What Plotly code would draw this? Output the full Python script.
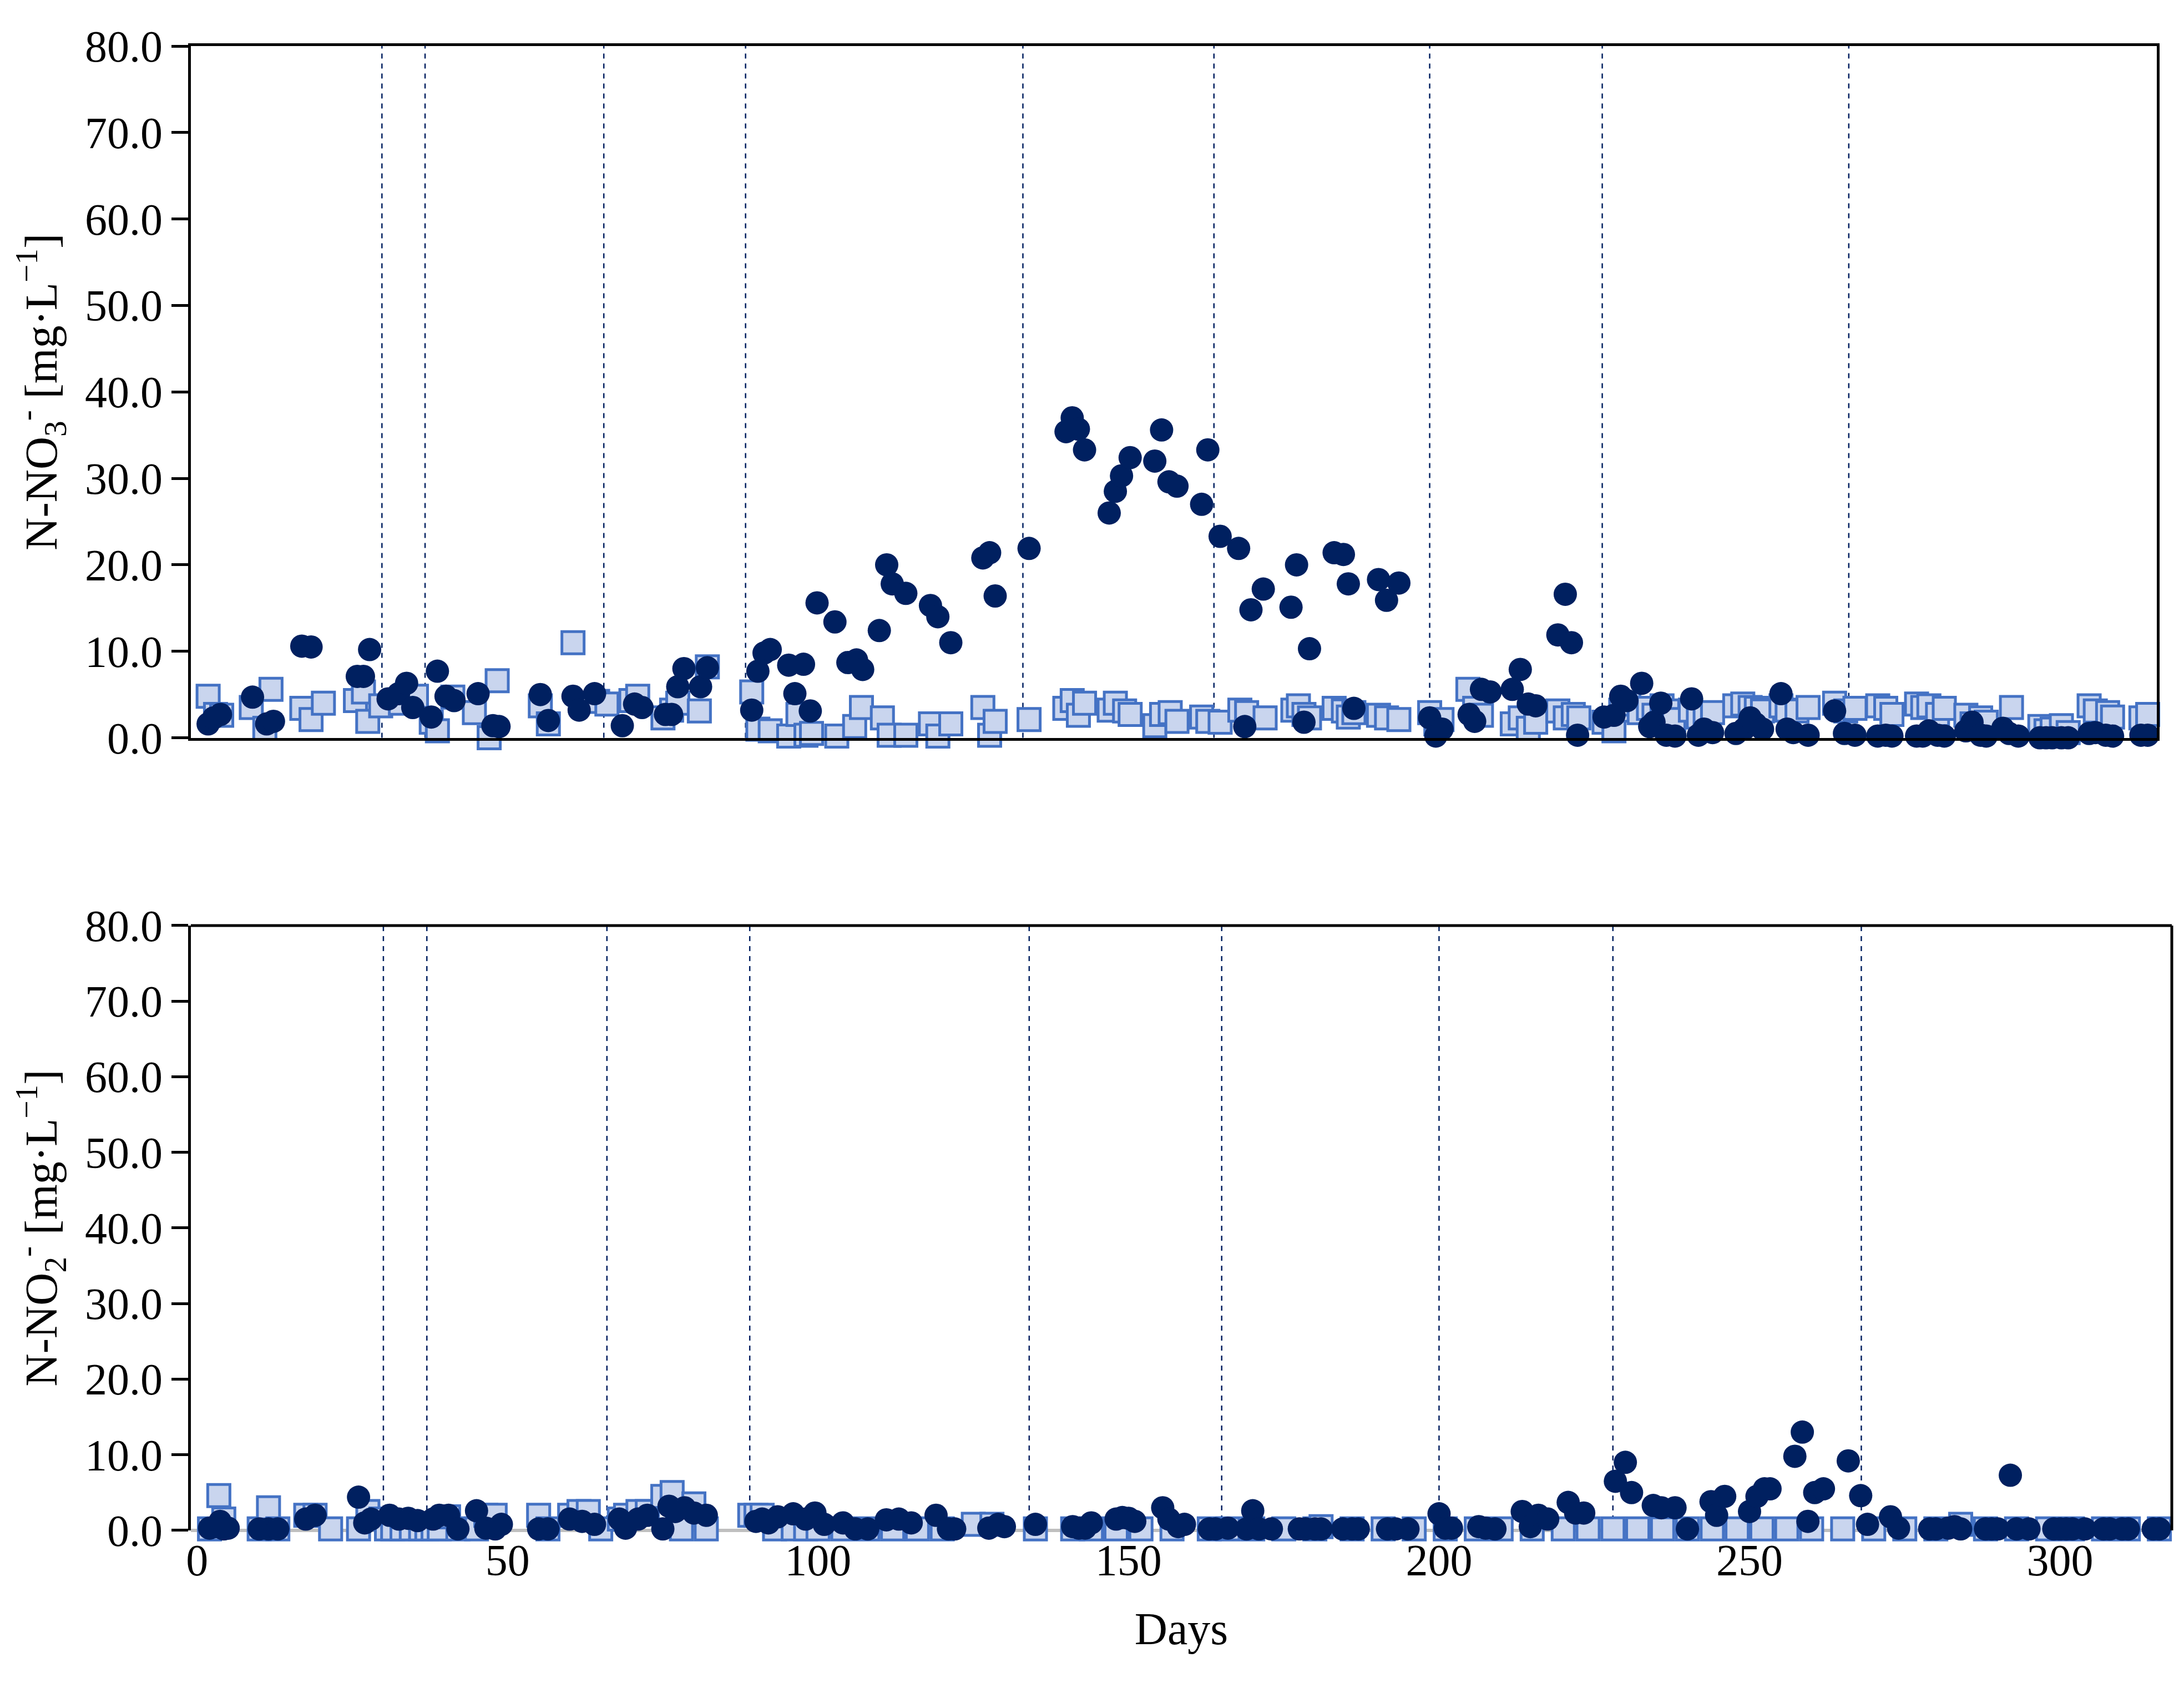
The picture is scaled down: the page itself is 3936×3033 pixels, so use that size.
import plotly.graph_objects as go

# N-NO3 (top panel)
no3_circle_days = [1.8, 2.7, 3.8, 9, 11.3, 12.4, 17, 18.5, 26, 27, 28, 31, 32.7, 34, 35, 38, 39, 40.4, 41.7, 45.6, 48, 49,
                   55.7, 57, 61, 62, 64.5, 69, 71, 72.2, 76, 77, 78, 79, 81.7, 82.8, 90, 91, 92, 93, 96, 97, 98.4, 99.5,
                   100.6, 103.5, 105.6, 107, 108, 110.7, 111.9, 112.8, 115, 119, 120.2, 122.3, 127.5, 128.6, 129.5, 135,
                   141, 142, 143, 144, 148, 149, 150, 151.4, 155.4, 156.5, 157.7, 159, 163, 164, 166, 169, 170, 171, 173,
                   177.5, 178.4, 179.6, 180.5, 184.5, 186, 186.8, 187.7, 191.7, 193, 195, 200, 201, 202, 206.4, 207.3,
                   208.4, 209.8, 213.4, 214.7, 216, 217.2, 220.8, 222, 223, 224, 228.3, 229.9, 231, 232, 234.4, 235.7,
                   236.4, 237.5, 238.4, 239.8, 242.5, 243.6, 244.5, 245.9, 249.7, 251, 252, 252.9, 254, 257, 258, 259,
                   261.4, 265.7, 267.3, 269, 272.7, 274, 275, 279, 280, 281, 282.4, 283.5, 287, 288, 289.4, 290.3, 293,
                   294, 295.5, 299, 300, 301, 302.5, 303.6, 307, 308, 309.7, 310.8, 315.4, 316.5]
no3_circle_vals = [1.6, 2.3, 2.7, 4.7, 1.6, 1.9, 10.6, 10.5, 7.1, 7.1, 10.2, 4.5, 5.1, 6.3, 3.5, 2.4, 7.7, 4.8, 4.3, 5.1, 1.4, 1.3,
                   5.0, 2.0, 4.8, 3.2, 5.1, 1.4, 3.9, 3.5, 2.7, 2.7, 5.9, 8.0, 5.9, 8.1, 3.2, 7.7, 9.8, 10.2, 8.4, 5.1, 8.5, 3.1,
                   15.6, 13.4, 8.7, 9.0, 7.9, 12.4, 20.0, 17.8, 16.7, 15.3, 14.0, 11.0, 20.8, 21.4, 16.4, 21.9,
                   35.4, 37.0, 35.7, 33.3, 26.0, 28.5, 30.3, 32.4, 32.0, 35.6, 29.6, 29.1, 27.0, 33.3, 23.3, 21.9, 1.3, 14.8, 17.2,
                   15.1, 20.0, 1.8, 10.3, 21.4, 21.2, 17.8, 3.4, 18.3, 15.9, 17.9, 2.3, 0.2, 1.0, 2.7, 1.9,
                   5.6, 5.3, 5.6, 7.9, 3.9, 3.7, 11.9, 16.6, 11.0, 0.3, 2.4, 2.6, 4.8, 4.3, 6.3, 1.3,
                   1.8, 4.0, 0.3, 0.2, 4.5, 0.3, 1.0, 0.6, 0.5, 1.0, 2.3, 1.6, 1.0, 5.1, 1.0, 0.6,
                   0.3, 3.1, 0.5, 0.3, 0.2, 0.3, 0.2, 0.2, 0.2, 0.8, 0.3, 0.2, 0.8, 1.8, 0.3, 0.2, 1.1,
                   0.5, 0.2, 0.0, 0.0, 0.0, 0.0, 0.0, 0.5, 0.6, 0.3, 0.2, 0.3, 0.3]

no3_square_days = [1.8, 3, 4, 8.8, 11, 12, 17, 18.5, 20.5, 25.7, 27, 27.7, 29.8, 33, 35.6, 38, 39, 41.5, 45, 47.4, 48.7,
                   55.7, 57, 61, 65, 66.5, 70.4, 71.5, 75.6, 77, 78, 81.5, 82.8, 90, 91, 93, 96, 97.5, 98.8, 99.7,
                   103.8, 106.7, 107.8, 111.2, 112.3, 115, 119, 120.2, 122.3, 127.5, 128.6, 129.5, 135, 140.8, 142, 143,
                   144, 148, 149, 150.5, 151.4, 155.4, 156.5, 157.9, 159, 163, 164, 166, 169.2, 170.3, 173.3, 177.8,
                   178.7, 179.6, 180.5, 184.5, 186, 186.8, 187.7, 191.7, 193, 195, 200, 201, 202, 206.2, 207.3, 208.4,
                   213.4, 214.7, 216, 217.2, 220.8, 222, 223.3, 224.2, 228.3, 229.9, 231, 232.3, 234, 235.5, 236.4,
                   237.7, 238.6, 239.6, 242.3, 243.6, 244.7, 245.9, 249.5, 250.8, 252, 253, 254, 257, 258, 259.6, 261.4,
                   265.7, 267.5, 269, 272.7, 274, 275, 279, 280, 281, 282.4, 283.5, 287, 288, 289.4, 290.3, 294.4,
                   299, 300, 301, 302.5, 303.6, 307, 308, 310, 310.8, 315.4, 316.5]
no3_square_vals = [4.8, 2.7, 2.6, 3.5, 1.1, 5.6, 3.4, 2.1, 4.0, 4.3, 5.3, 1.9, 3.7, 4.0, 4.8, 1.8, 0.8, 4.7, 2.9, 0.0, 6.6,
                   3.7, 1.6, 11.0, 4.2, 3.9, 4.3, 4.8, 2.3, 3.2, 4.0, 3.1, 8.2, 5.3, 1.0, 0.8, 0.2, 2.7, 0.3, 0.5,
                   0.2, 1.3, 3.5, 2.3, 0.3, 0.3, 1.6, 0.2, 1.6, 3.5, 0.3, 1.9, 2.1, 3.4, 4.3, 2.6,
                   4.0, 3.2, 4.0, 3.1, 2.7, 1.4, 2.7, 2.9, 1.9, 2.4, 1.9, 1.8, 3.2, 2.9, 2.3, 3.2,
                   3.7, 2.7, 2.3, 3.4, 3.1, 2.4, 2.9, 2.6, 2.3, 2.1, 2.9, 1.6, 2.1, 5.6, 3.4, 2.6,
                   1.6, 2.3, 1.1, 1.8, 3.1, 2.3, 2.7, 2.3, 1.8, 0.8, 3.2, 3.9, 2.9, 3.4, 2.6,
                   3.7, 3.1, 2.1, 3.2, 2.4, 2.7, 2.9, 3.7, 3.9, 3.5, 3.4, 3.1, 3.7, 3.2, 3.1, 3.5,
                   4.0, 3.1, 3.4, 3.7, 3.4, 2.7, 3.9, 3.5, 3.7, 2.7, 3.4, 2.6, 1.6, 2.3, 1.8, 3.5,
                   1.3, 0.8, 1.0, 1.4, 0.6, 3.7, 3.1, 2.9, 2.4, 2.3, 2.7]

# N-NO2 (bottom panel)
no2_circle_days = [2, 3, 3.7, 4.3, 5, 10, 11.5, 13, 17.5, 19, 26, 27, 28, 31, 32.5, 34, 35.5, 38, 39, 40.5, 42, 45, 46.5,
                   48, 49, 55, 56.5, 60, 62, 64, 68, 69, 71, 72.5, 75, 76, 77, 78.5, 80, 82, 90, 91, 92, 93.5, 96, 98,
                   99.5, 101, 104, 106, 108, 111, 113, 115, 119, 121, 122, 127.5, 129, 130, 135, 141, 142, 143, 144,
                   148, 149, 150, 151, 155.5, 156.5, 158, 159, 163, 164, 166, 169, 170, 171, 173, 177.5, 178.5, 180,
                   181, 184.5, 186, 187, 191.7, 193, 195, 200, 201, 202, 206.4, 207.5, 209, 213.4, 214.7, 216, 217.5,
                   220.8, 222, 223.3, 228.4, 230, 231, 234.5, 235.8, 238, 240, 243.8, 244.7, 246, 250, 251.2, 252.4,
                   253.3, 257.3, 258.5, 259.4, 260.5, 261.9, 265.9, 267.9, 269, 272.7, 274, 279, 280, 282, 283, 284,
                   288, 289, 290, 292, 293, 295, 299, 300, 301, 302, 304, 307, 308, 310, 311, 315, 316]
no2_circle_vals = [0.3, 0.5, 1.2, 0.2, 0.3, 0.2, 0.2, 0.2, 1.5, 2.0, 4.4, 1.0, 1.5, 2.0, 1.5, 1.6, 1.3, 1.5, 2.0, 2.0, 0.2, 2.6, 0.3,
                   0.2, 0.8, 0.2, 0.2, 1.5, 1.2, 0.8, 1.5, 0.3, 1.5, 2.0, 0.2, 3.2, 2.5, 3.0, 2.3, 2.0, 1.2, 1.5, 1.0, 1.8, 2.2, 1.5,
                   2.3, 0.8, 1.0, 0.2, 0.2, 1.4, 1.5, 1.0, 2.0, 0.2, 0.2, 0.3, 0.8, 0.5, 0.8, 0.5, 0.3, 0.3, 1.0,
                   1.5, 1.7, 1.6, 1.2, 3.0, 1.5, 0.5, 0.8, 0.2, 0.2, 0.3, 0.2, 2.6, 0.2, 0.2, 0.2, 0.2, 0.2,
                   0.2, 0.2, 0.2, 0.2, 0.2, 0.2, 0.2, 2.2, 0.3, 0.3, 0.5, 0.3, 0.2, 2.5, 0.5, 2.0, 1.5,
                   3.7, 2.3, 2.3, 6.5, 9.0, 5.0, 3.3, 3.0, 3.0, 0.2, 3.8, 2.0, 4.5, 2.5, 4.5, 5.5,
                   5.5, 9.8, 13.0, 1.2, 5.0, 5.5, 9.2, 4.6, 0.8, 1.8, 0.3, 0.2, 0.2, 0.3, 0.5, 0.2,
                   0.2, 0.2, 0.2, 7.3, 0.2, 0.2, 0.2, 0.2, 0.2, 0.2, 0.2, 0.2, 0.2, 0.2, 0.2, 0.2, 0.2]

no2_square_days = [2, 3.5, 4.3, 10, 11.5, 13, 17.5, 19, 21.5, 26, 27.5, 29.6, 30.5, 31.5, 33, 34.5, 36, 37, 38, 39, 40.5,
                   42, 45, 46.5, 48, 55, 56.5, 60, 61.5, 63, 65, 68, 69, 71, 72.5, 75, 76.5, 78, 80, 82, 89, 90, 91,
                   93, 96, 98, 100, 104, 108, 112, 116, 120, 125, 128, 135, 141, 144, 148, 152, 157, 163, 166, 170,
                   175, 180, 181, 186, 191, 196, 201, 206, 210, 215, 220, 224, 228, 232, 236, 240, 244, 248, 252, 256,
                   260, 265, 270, 275, 280, 284, 288, 293, 298, 302, 307, 311, 316]
no2_square_vals = [0.2, 4.6, 1.5, 0.2, 3.0, 0.2, 2.0, 2.0, 0.2, 0.2, 2.5, 1.5, 0.2, 0.2, 0.2, 0.2, 0.2, 0.2, 0.2, 0.2, 1.8,
                   0.2, 0.2, 2.0, 2.0, 2.0, 0.2, 2.0, 2.5, 2.5, 0.2, 1.5, 2.0, 2.5, 2.5, 4.5, 5.0, 0.2, 3.5, 0.2, 2.0, 2.0, 2.0,
                   0.2, 0.2, 0.2, 0.2, 0.2, 0.2, 0.2, 0.2, 0.2, 0.8, 0.8, 0.2, 0.2, 0.2, 0.2, 0.2, 0.2, 0.2, 0.2, 0.2,
                   0.2, 0.2, 0.5, 0.2, 0.2, 0.2, 0.2, 0.2, 0.2, 0.2, 0.2, 0.2, 0.2, 0.2, 0.2, 0.2, 0.2, 0.2, 0.2, 0.2,
                   0.2, 0.2, 0.2, 0.2, 0.2, 0.8, 0.2, 0.2, 0.2, 0.2, 0.2, 0.2, 0.2]

# phase boundaries (days)
phase_days = [30, 37, 66, 89, 134, 165, 200, 228, 268]

x_ticks = [0, 50, 100, 150, 200, 250, 300]
y_ticks = [0, 10, 20, 30, 40, 50, 60, 70, 80]

navy = "#002060"
square_style = dict(symbol="square", size=40, color="#C9D5EE", line=dict(color="#4472C4", width=5))
circle_style = dict(symbol="circle", size=42, color=navy, line=dict(width=0))

fig = go.Figure()

fig.add_trace(go.Scatter(x=no3_square_days, y=no3_square_vals, mode="markers", marker=square_style,
                         xaxis="x", yaxis="y", cliponaxis=False))
fig.add_trace(go.Scatter(x=no3_circle_days, y=no3_circle_vals, mode="markers", marker=circle_style,
                         xaxis="x", yaxis="y", cliponaxis=False))
fig.add_trace(go.Scatter(x=no2_square_days, y=no2_square_vals, mode="markers", marker=square_style,
                         xaxis="x2", yaxis="y2", cliponaxis=False))
fig.add_trace(go.Scatter(x=no2_circle_days, y=no2_circle_vals, mode="markers", marker=circle_style,
                         xaxis="x2", yaxis="y2", cliponaxis=False))

# dashed phase lines in both panels
for d in phase_days:
    for xr, yr in (("x", "y domain"), ("x2", "y2 domain")):
        fig.add_shape(type="line", x0=d, x1=d, y0=0, y1=1, xref=xr, yref=yr,
                      line=dict(color=navy, width=2.5, dash="dash"), layer="below")

# box for bottom panel (top, right), bottom edge is the grey zero line
fig.add_shape(type="line", x0=0, x1=1, y0=1, y1=1, xref="x2 domain", yref="y2 domain",
              line=dict(color="black", width=5))
fig.add_shape(type="line", x0=1, x1=1, y0=0, y1=1, xref="x2 domain", yref="y2 domain",
              line=dict(color="black", width=5))

font = dict(family="Liberation Serif", size=80, color="black")
title_font = dict(family="Liberation Serif", size=82, color="black")
yaxis_common = dict(range=[0, 80], tickvals=y_ticks, tickformat=".1f", ticks="outside", ticklen=30,
                    tickwidth=5, tickcolor="black", showline=True, linewidth=5, linecolor="black",
                    showgrid=False, zeroline=False, tickfont=font, title_font=title_font)

fig.update_layout(
    width=3936, height=3033,
    plot_bgcolor="white", paper_bgcolor="white",
    showlegend=False,
    margin=dict(l=336, r=30, t=75, b=283),
    font=font,
    xaxis=dict(domain=[0, 0.9925], range=[-1, 318], anchor="y", showticklabels=False, ticks="",
               showline=True, linewidth=5, linecolor="black", mirror=True, showgrid=False, zeroline=False),
    yaxis=dict(domain=[0.534, 1], anchor="x", mirror=True,
               title_text="N-NO<sub>3</sub><sup>-</sup> [mg·L<sup>−1</sup>]", title_standoff=25, **yaxis_common),
    xaxis2=dict(domain=[0, 1], range=[-1, 318], anchor="y2", tickvals=x_ticks, ticks="", showline=False,
                showgrid=False, zeroline=False, tickfont=font,
                title_text="Days", title_font=title_font, title_standoff=50),
    yaxis2=dict(domain=[0, 0.4075], anchor="x2",
                title_text="N-NO<sub>2</sub><sup>-</sup> [mg·L<sup>−1</sup>]", title_standoff=25, **yaxis_common),
)
fig.update_yaxes(selector=dict(anchor="x2"), zeroline=True, zerolinecolor="#BFBFBF", zerolinewidth=6)

fig.write_html("out.html")
